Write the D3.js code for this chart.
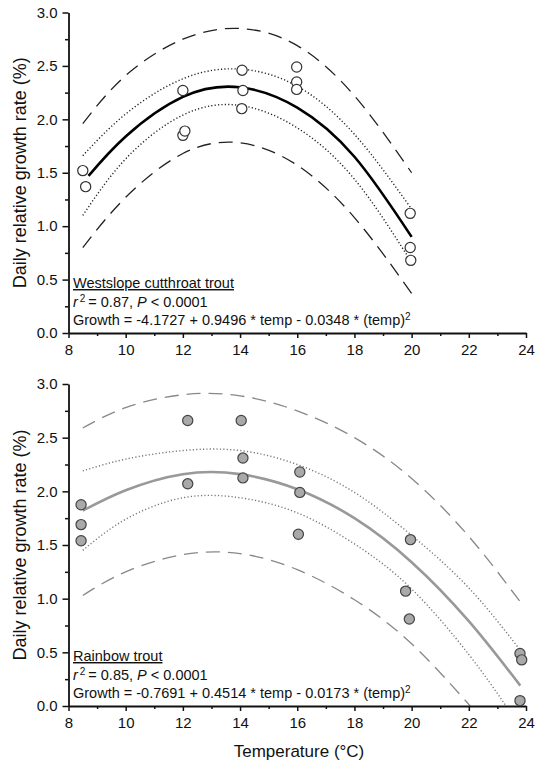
<!DOCTYPE html>
<html><head><meta charset="utf-8">
<script src="https://cdn.jsdelivr.net/npm/d3@7"></script>
<style>
html,body{margin:0;padding:0;background:#fff;}
svg text{font-family:"Liberation Sans",Arial,Helvetica,sans-serif;}
</style></head>
<body>
<svg id="chart" width="535" height="770"></svg>
<script>
// ---------- data ----------
const xTicks = [8, 10, 12, 14, 16, 18, 20, 22, 24];
const xMinor = [9, 11, 13, 15, 17, 19, 21, 23];
const yTicks = [0, 0.5, 1.0, 1.5, 2.0, 2.5, 3.0];
const yMinor = [0.25, 0.75, 1.25, 1.75, 2.25, 2.75];

// Westslope cutthroat trout (open circles)
const wctTemp   = [8.5, 8.6, 12.0, 12.0, 12.07, 14.07, 14.1, 14.06, 15.98, 15.98, 15.98, 19.95, 19.95, 19.97];
const wctGrowth = [1.52, 1.37, 2.27, 1.85, 1.89, 2.46, 2.27, 2.10, 2.49, 2.35, 2.28, 1.12, 0.80, 0.68];
const wctFitTemp  = [8.7, 10, 12, 14, 16, 18, 20];
const wctFit      = [1.47, 1.84, 2.21, 2.30, 2.11, 1.65, 0.90];
const wctBandTemp = [8.5, 10, 12, 14, 16, 18, 20];
const wctConfHi   = [1.66, 2.05, 2.38, 2.47, 2.31, 1.86, 1.16];
const wctConfLo   = [1.10, 1.63, 2.04, 2.13, 1.92, 1.44, 0.66];
const wctPredHi   = [1.96, 2.41, 2.75, 2.85, 2.69, 2.22, 1.50];
const wctPredLo   = [0.80, 1.27, 1.68, 1.78, 1.57, 1.08, 0.37];

// Rainbow trout (grey circles)
const rbtTemp   = [8.44, 8.44, 8.44, 12.17, 12.17, 14.04, 14.1, 14.1, 16.09, 16.09, 16.04, 19.96, 19.79, 19.92, 23.79, 23.85, 23.79];
const rbtGrowth = [1.875, 1.69, 1.54, 2.66, 2.07, 2.66, 2.31, 2.125, 2.18, 1.99, 1.60, 1.55, 1.07, 0.81, 0.49, 0.43, 0.05];
const rbtFitTemp    = [8.5, 10, 12, 14, 16, 18, 20, 22, 23.8];
const rbtFit        = [1.82, 2.01, 2.16, 2.16, 2.02, 1.75, 1.34, 0.79, 0.19];
const rbtConfHi     = [2.19, 2.30, 2.38, 2.38, 2.25, 1.99, 1.59, 1.10, 0.52];
const rbtConfLoTemp = [8.5, 10, 12, 14, 16, 18, 20, 22, 23.3];
const rbtConfLo     = [1.45, 1.74, 1.94, 1.94, 1.80, 1.51, 1.09, 0.48, 0.0];
const rbtPredHi     = [2.59, 2.78, 2.90, 2.89, 2.75, 2.50, 2.12, 1.58, 0.97];
const rbtPredLoTemp = [8.5, 10, 12, 14, 16, 18, 20, 22.05];
const rbtPredLo     = [1.03, 1.25, 1.41, 1.42, 1.27, 0.99, 0.58, 0.0];

const yTitle = "Daily relative growth rate (%)";
const xTitle = "Temperature (\u00B0C)";

// ---------- drawing ----------
const svg = d3.select("#chart");
const x = d3.scaleLinear().domain([8, 24]).range([68.5, 526]);

function zip(a, b) { return a.map((v, i) => [v, b[i]]); }

function panel(cfg) {
  const y = d3.scaleLinear().domain([0, 3]).range([cfg.bottom, cfg.top]);
  const g = svg.append("g");
  const clipId = "clip" + cfg.id;
  svg.append("clipPath").attr("id", clipId).append("rect")
    .attr("x", x(8)).attr("y", y(3) - 2).attr("width", x(24) - x(8)).attr("height", y(0) - y(3) + 2);

  const line = d3.line().x(d => x(d[0])).y(d => y(d[1])).curve(d3.curveNatural);
  const lg = g.append("g").attr("clip-path", `url(#${clipId})`);
  const dashes = [
    [cfg.predHiT, cfg.predHi, "14,8", cfg.dashCol, 1.3],
    [cfg.predLoT, cfg.predLo, "14,8", cfg.dashCol, 1.3],
    [cfg.confHiT, cfg.confHi, "1.2,2.2", cfg.dotCol, 1.4],
    [cfg.confLoT, cfg.confLo, "1.2,2.2", cfg.dotCol, 1.4]
  ];
  dashes.forEach(([t, v, da, col, w]) => {
    lg.append("path").datum(zip(t, v)).attr("d", line)
      .attr("fill", "none").attr("stroke", col).attr("stroke-width", w)
      .attr("stroke-dasharray", da);
  });
  lg.append("path").datum(zip(cfg.fitT, cfg.fit)).attr("d", line)
    .attr("fill", "none").attr("stroke", cfg.fitCol).attr("stroke-width", 2.6);

  // axes
  const ax = g.append("g").attr("transform", `translate(0,${y(0)})`)
    .call(d3.axisBottom(x).tickValues(xTicks).tickSize(5).tickSizeOuter(0).tickPadding(6).tickFormat(d3.format("d")));
  const axm = g.append("g").attr("transform", `translate(0,${y(0)})`)
    .call(d3.axisBottom(x).tickValues(xMinor).tickSize(3).tickFormat(""));
  axm.select(".domain").remove();
  const ay = g.append("g").attr("transform", `translate(${x(8)},0)`)
    .call(d3.axisLeft(y).tickValues(yTicks).tickSize(6).tickSizeOuter(0).tickPadding(5).tickFormat(d3.format(".1f")));
  const aym = g.append("g").attr("transform", `translate(${x(8)},0)`)
    .call(d3.axisLeft(y).tickValues(yMinor).tickSize(3.5).tickFormat(""));
  aym.select(".domain").remove();
  [ax, axm, ay, aym].forEach(a => {
    a.selectAll(".domain").attr("stroke", "#111").attr("stroke-width", 1.8);
    a.selectAll(".tick line").attr("stroke", "#111").attr("stroke-width", 1.5);
    a.selectAll(".tick text").attr("font-size", 15).attr("fill", "#111")
      .style("font-family", '"Liberation Sans",Arial,sans-serif');
  });

  // points
  g.append("g").selectAll("circle").data(zip(cfg.pT, cfg.pV)).join("circle")
    .attr("cx", d => x(d[0])).attr("cy", d => y(d[1])).attr("r", 5.1)
    .attr("fill", cfg.ptFill).attr("stroke", cfg.ptStroke).attr("stroke-width", 1.2);

  // y title
  g.append("text").attr("transform", `translate(26,${(y(0) + y(3)) / 2}) rotate(-90)`)
    .attr("text-anchor", "middle").attr("font-size", 18).attr("fill", "#111").text(yTitle);

  // annotation
  const ax0 = 73, base = y(0);
  g.append("text").attr("x", ax0).attr("y", base - 45).attr("font-size", 14.5).attr("fill", "#111")
    .style("text-decoration", "underline").text(cfg.name);
  const t2 = g.append("text").attr("x", ax0).attr("y", base - 26).attr("font-size", 14.5).attr("fill", "#111");
  t2.append("tspan").attr("font-style", "italic").text("r");
  t2.append("tspan").attr("font-size", 10).attr("dy", -5).attr("dx", 2).text("2");
  t2.append("tspan").attr("dy", 5).text("\u2009= " + cfg.r2 + ", ");
  t2.append("tspan").attr("font-style", "italic").text("P");
  t2.append("tspan").text(" < 0.0001");
  const t3 = g.append("text").attr("x", ax0).attr("y", base - 8).attr("font-size", 14.5).attr("fill", "#111");
  t3.append("tspan").text(cfg.eq);
  t3.append("tspan").attr("font-size", 10).attr("dy", -5).text("2");
}

panel({
  id: "A", top: 12.5, bottom: 333,
  pT: wctTemp, pV: wctGrowth, ptFill: "#fff", ptStroke: "#333",
  fitT: wctFitTemp, fit: wctFit, fitCol: "#000",
  confHiT: wctBandTemp, confHi: wctConfHi, confLoT: wctBandTemp, confLo: wctConfLo,
  predHiT: wctBandTemp, predHi: wctPredHi, predLoT: wctBandTemp, predLo: wctPredLo,
  dashCol: "#222", dotCol: "#222",
  name: "Westslope cutthroat trout", r2: "0.87",
  eq: "Growth = -4.1727 + 0.9496 * temp - 0.0348 * (temp)"
});
panel({
  id: "B", top: 384, bottom: 706,
  pT: rbtTemp, pV: rbtGrowth, ptFill: "#a9a9a9", ptStroke: "#444",
  fitT: rbtFitTemp, fit: rbtFit, fitCol: "#999",
  confHiT: rbtFitTemp, confHi: rbtConfHi, confLoT: rbtConfLoTemp, confLo: rbtConfLo,
  predHiT: rbtFitTemp, predHi: rbtPredHi, predLoT: rbtPredLoTemp, predLo: rbtPredLo,
  dashCol: "#888", dotCol: "#777",
  name: "Rainbow trout", r2: "0.85",
  eq: "Growth = -0.7691 + 0.4514 * temp - 0.0173 * (temp)"
});

svg.append("text").attr("x", 299).attr("y", 757).attr("text-anchor", "middle")
  .attr("font-size", 17).attr("fill", "#111").text(xTitle);
</script>
</body></html>
